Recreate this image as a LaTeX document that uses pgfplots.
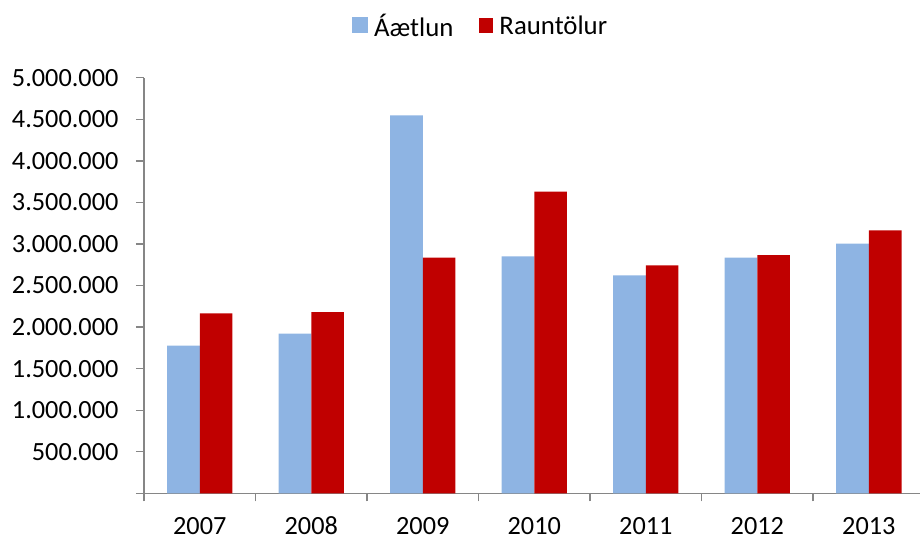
\documentclass[border=0pt]{standalone}
\usepackage{pgfplots}
\pgfplotsset{compat=1.18}
\usepackage{fontspec}
\setmainfont{Carlito}
\definecolor{planblue}{HTML}{8EB4E3}
\definecolor{realred}{HTML}{C00000}
\definecolor{axisgrey}{HTML}{868686}
\begin{document}
\fontsize{19.7pt}{23pt}\selectfont
\begin{tikzpicture}
\useasboundingbox (-108pt,-32.8pt) rectangle (582pt,370pt);
\begin{axis}[
  scale only axis, width=585.45pt, height=311.7pt,
  at={(0pt,0pt)}, anchor=south west,
  ybar=0pt, bar width=24.5pt,
  xmin=-0.5, xmax=6.5, ymin=0, ymax=5000000,
  axis x line*=bottom, axis y line*=left,
  axis line style={draw=axisgrey, line width=1pt, -},
  tick align=outside, major tick length=6pt,
  tick style={draw=axisgrey, line width=1pt},
  xtick={-0.5,0.5,1.5,2.5,3.5,4.5,5.5,6.5},
  x tick label as interval=true,
  xticklabels={2007,2008,2009,2010,2011,2012,2013},
  ytick={0,500000,1000000,1500000,2000000,2500000,3000000,3500000,4000000,4500000,5000000},
  yticklabels={,500.000,1.000.000,1.500.000,2.000.000,2.500.000,3.000.000,3.500.000,4.000.000,4.500.000,5.000.000},
  scaled y ticks=false,
  ticklabel style={font=\fontsize{19.7pt}{23pt}\selectfont, inner sep=0pt},
  yticklabel style={anchor=east, xshift=-13pt},
  xticklabel style={anchor=base, text depth=0pt, yshift=-25pt},
  legend columns=2,
  legend style={draw=none, fill=none, at={(0.2661,1.126)}, anchor=west,
    inner sep=0pt, outer sep=0pt,
    nodes={inner sep=0pt, text depth=0pt},
    font=\fontsize{20.1pt}{23pt}\selectfont,
    /tikz/every odd column/.append style={column sep=4.5pt},
    /tikz/every even column/.append style={column sep=19pt}},
]
\addplot[fill=planblue, draw=none,
  legend image code/.code={\fill[planblue] (0pt,-5.8pt) rectangle (12.3pt,6.2pt);}]
  coordinates {(0,1776000) (1,1920000) (2,4548000) (3,2851000) (4,2623000) (5,2835000) (6,3003000)};
\addplot[fill=realred, draw=none,
  legend image code/.code={\fill[realred] (0pt,-5.5pt) rectangle (11pt,5.5pt);}]
  coordinates {(0,2165000) (1,2181000) (2,2835000) (3,3629000) (4,2743000) (5,2867000) (6,3164000)};
\legend{Áætlun,Rauntölur}
\end{axis}
\end{tikzpicture}
\end{document}
